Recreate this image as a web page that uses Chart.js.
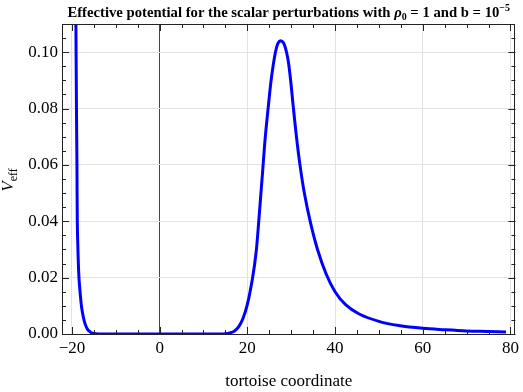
<!DOCTYPE html>
<html>
<head>
<meta charset="utf-8">
<script src="https://cdn.jsdelivr.net/npm/chart.js@4.4.1/dist/chart.umd.min.js"></script>
<style>
html,body{margin:0;padding:0;background:#fff;}
#wrap{width:523px;height:392px;position:relative;}
</style>
</head>
<body>
<div id="wrap"><canvas id="c" width="523" height="392"></canvas></div>
<script>
// ---- data ----
const xValues = [-19.6, -19.1, -18.97, -18.86, -18.78, -18.6, -18.4, -18.1, -17.8, -17.4, -17.0, -16.5, -16.0, -15.5, -14.5, -13.0,
  0, 14.0, 15.0, 16.0, 17.0, 18.0, 19.0, 20.0, 21.2, 22.0, 22.6, 23.5, 24.1, 24.8, 25.5, 26.4, 27.0, 27.7, 28.4, 29.2, 29.8, 30.45,
  31.2, 32.0, 33.0, 34.4, 36.0, 38.0, 40.0, 42.4, 45.5, 50.0, 54.5, 60.0, 65.0, 70.0, 75.0, 79.0];
const yValues = [0.20, 0.110, 0.080, 0.060, 0.040, 0.028, 0.020, 0.014, 0.0095, 0.006, 0.0036, 0.0018, 0.0009, 0.0004, 0.0001, 0.0,
  0.0, 0.0, 0.0001, 0.0004, 0.001, 0.0025, 0.0055, 0.0105, 0.020, 0.029, 0.040, 0.058, 0.070, 0.081, 0.091, 0.100, 0.1032, 0.1040, 0.1028, 0.098, 0.091, 0.081,
  0.070, 0.060, 0.0500, 0.0395, 0.0300, 0.0212, 0.0150, 0.0104, 0.0071, 0.0045, 0.0030, 0.0020, 0.0015, 0.0011, 0.0009, 0.0007];
const xTickValues = [-20, -15, -10, -5, 0, 5, 10, 15, 20, 25, 30, 35, 40, 45, 50, 55, 60, 65, 70, 75, 80];
const xTickLabels = ['−20', '', '', '', '0', '', '', '', '20', '', '', '', '40', '', '', '', '60', '', '', '', '80'];
const yTickValues = [0, 0.005, 0.01, 0.015, 0.02, 0.025, 0.03, 0.035, 0.04, 0.045, 0.05, 0.055, 0.06, 0.065, 0.07, 0.075, 0.08, 0.085, 0.09, 0.095, 0.10, 0.105];
const yTickLabels = ['0.00', '', '', '', '0.02', '', '', '', '0.04', '', '', '', '0.06', '', '', '', '0.08', '', '', '', '0.10', ''];
const titleParts = [
  {t: 'Effective potential for the scalar perturbations with ', s: 'bold 14.7px', dy: 0},
  {t: 'ρ', s: 'italic bold 14.7px', dy: 0},
  {t: '0', s: 'bold 10px', dy: 3},
  {t: ' = 1 and b = 10', s: 'bold 14.7px', dy: 0},
  {t: '−5', s: 'bold 10px', dy: -6}
];
const xTitle = 'tortoise coordinate';
const yTitleMain = 'V';
const yTitleSub = 'eff';

const SERIF = '"Liberation Serif", "Times New Roman", serif';
const points = xValues.map((x, i) => ({x: x, y: yValues[i]}));

function isMajorX(v){ return Math.abs(v % 20) < 1e-9; }
function isMajorY(v){ return Math.abs(Math.round(v*1000) % 20) === 0; }

const framePlugin = {
  id: 'frame',
  afterDraw(chart){
    const ctx = chart.ctx, a = chart.chartArea;
    const xs = chart.scales.x, ys = chart.scales.y;
    ctx.save();
    ctx.strokeStyle = '#222';
    ctx.lineWidth = 1;
    ctx.strokeRect(Math.round(a.left)+0.5, Math.round(a.top)+0.5, Math.round(a.right-a.left)-1, Math.round(a.bottom-a.top));
    ctx.beginPath();
    xTickValues.forEach(v => {
      const px = Math.round(xs.getPixelForValue(v)) + 0.5;
      const len = isMajorX(v) ? 7 : 4;
      ctx.moveTo(px, a.bottom); ctx.lineTo(px, a.bottom - len);
      ctx.moveTo(px, a.top); ctx.lineTo(px, a.top + len);
    });
    yTickValues.forEach(v => {
      const py = Math.round(ys.getPixelForValue(v)) + 0.5;
      const len = isMajorY(v) ? 7 : 4;
      ctx.moveTo(a.left, py); ctx.lineTo(a.left + len, py);
      ctx.moveTo(a.right, py); ctx.lineTo(a.right - len, py);
    });
    ctx.stroke();

    ctx.fillStyle = '#000';
    ctx.textBaseline = 'alphabetic';
    let total = 0;
    titleParts.forEach(p => { ctx.font = p.s + ' ' + SERIF; p.w = ctx.measureText(p.t).width; total += p.w; });
    let tx = (a.left + a.right) / 2 - total / 2;
    titleParts.forEach(p => { ctx.font = p.s + ' ' + SERIF; ctx.fillText(p.t, tx, 17 + p.dy); tx += p.w; });

    ctx.font = '17px ' + SERIF;
    ctx.textAlign = 'center';
    ctx.fillText(xTitle, (a.left + a.right) / 2, 386);

    ctx.save();
    ctx.translate(13, 180);
    ctx.rotate(-Math.PI / 2);
    ctx.textAlign = 'left';
    ctx.font = 'italic 17px ' + SERIF;
    const w1 = ctx.measureText(yTitleMain).width;
    ctx.font = '12px ' + SERIF;
    const w2 = ctx.measureText(yTitleSub).width;
    const start = -(w1 + w2) / 2;
    ctx.font = 'italic 17px ' + SERIF;
    ctx.fillText(yTitleMain, start, 0);
    ctx.font = '12px ' + SERIF;
    ctx.fillText(yTitleSub, start + w1, 4);
    ctx.restore();
    ctx.restore();
  }
};

new Chart(document.getElementById('c'), {
  type: 'scatter',
  data: {
    datasets: [{
      data: points,
      showLine: true,
      borderColor: '#0000ff',
      borderWidth: 3,
      pointRadius: 0,
      tension: 0.35,
      fill: false
    }]
  },
  options: {
    responsive: false,
    animation: false,
    events: [],
    layout: {padding: {left: 0, right: 6, top: 24, bottom: 0}},
    plugins: {legend: {display: false}, tooltip: {enabled: false}, title: {display: false}},
    scales: {
      x: {
        type: 'linear',
        min: -22.27, max: 81.14,
        afterBuildTicks(scale){ scale.ticks = xTickValues.map(v => ({value: v})); },
        afterFit(scale){ scale.height = 58; },
        ticks: {
          autoSkip: false, maxRotation: 0, padding: 4,
          color: '#000',
          font: {family: SERIF, size: 17},
          callback(v, i){ return xTickLabels[i]; }
        },
        grid: {
          drawTicks: false,
          color(ctx){
            const v = ctx.tick ? ctx.tick.value : null;
            if (v === 0) return '#444';
            if (v !== null && isMajorX(v)) return '#e2e2e2';
            return 'rgba(0,0,0,0)';
          },
          lineWidth: 1
        },
        border: {display: false}
      },
      y: {
        type: 'linear',
        min: 0, max: 0.11,
        afterBuildTicks(scale){ scale.ticks = yTickValues.map(v => ({value: v})); },
        afterFit(scale){ scale.width = 62; },
        ticks: {
          autoSkip: false, padding: 4,
          color: '#000',
          font: {family: SERIF, size: 17},
          callback(v, i){ return yTickLabels[i]; }
        },
        grid: {
          drawTicks: false,
          color(ctx){
            const v = ctx.tick ? ctx.tick.value : null;
            if (v !== null && v > 0 && isMajorY(v)) return '#e2e2e2';
            return 'rgba(0,0,0,0)';
          },
          lineWidth: 1
        },
        border: {display: false}
      }
    }
  },
  plugins: [framePlugin]
});
</script>
</body>
</html>
